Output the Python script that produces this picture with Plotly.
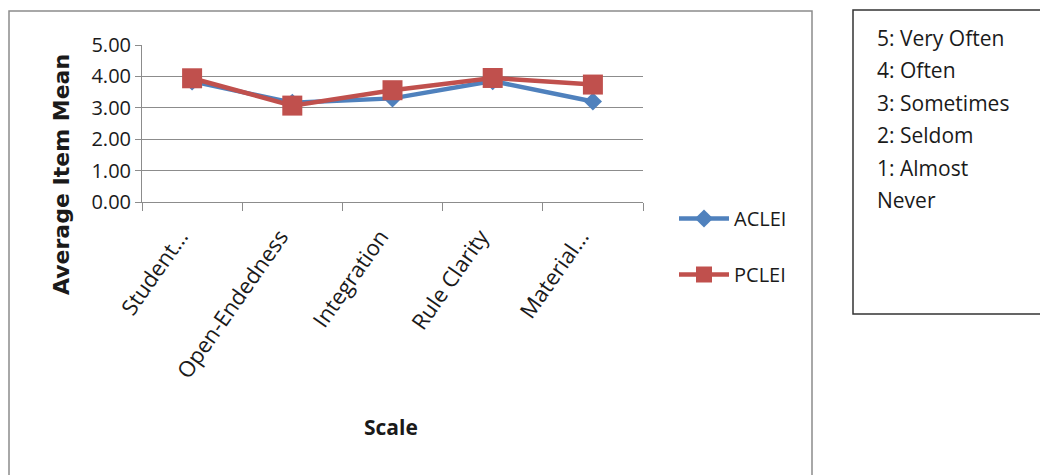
import plotly.graph_objects as go

categories = ["Student...", "Open-Endedness", "Integration", "Rule Clarity", "Material..."]
aclei = [3.84, 3.16, 3.30, 3.85, 3.20]
pclei = [3.94, 3.07, 3.56, 3.95, 3.74]
y_ticks = [0, 1, 2, 3, 4, 5]
y_tick_labels = ["0.00", "1.00", "2.00", "3.00", "4.00", "5.00"]
scale_notes = ["5: Very Often", "4: Often", "3: Sometimes", "2: Seldom", "1: Almost", "Never"]

# page has an 8px body margin; figure is placed at (8, 8)
OFF = 8
W, H = 1048 - OFF, 475 - OFF
PL, PR, PT, PB = 142, 643, 45, 202  # plot area in page pixels
L, R, T, B = PL - OFF, W - (PR - OFF), PT - OFF, H - (PB - OFF)
PW, PH = W - L - R, H - T - B

def px(x):
    return (x - OFF - L) / PW

def py(y):
    return (H - B - (y - OFF)) / PH

fig = go.Figure()
fig.add_trace(go.Scatter(
    x=categories, y=aclei, name="ACLEI", mode="lines+markers", legendgroup="a",
    line=dict(color="#4F81BD", width=4.5),
    marker=dict(symbol="diamond", size=14, color="#4F81BD"),
))
fig.add_trace(go.Scatter(
    x=categories, y=pclei, name="PCLEI", mode="lines+markers", legendgroup="p",
    line=dict(color="#C0504D", width=4.5),
    marker=dict(symbol="square", size=20, color="#C0504D"),
))

fig.update_layout(
    width=W, height=H,
    margin=dict(l=L, r=R, t=T, b=B),
    paper_bgcolor="white", plot_bgcolor="white",
    font=dict(family="Open Sans", color="#1a1a1a"),
    showlegend=True,
    legend=dict(
        x=px(674), y=py(199), xanchor="left", yanchor="top",
        font=dict(family="Open Sans", size=20, color="#1a1a1a"),
        tracegroupgap=27, itemwidth=50,
        bgcolor="rgba(0,0,0,0)",
    ),
    xaxis=dict(
        type="category", range=[-0.5, 4.5],
        showgrid=False, showline=True, linecolor="#8c8c8c", linewidth=1,
        ticks="outside", ticklen=8, tickcolor="#8c8c8c", tickson="boundaries",
        tickangle=-55, tickfont=dict(family="Open Sans", size=22, color="#1a1a1a"),
        ticklabelstandoff=12, ticklabelshift=-12,
        zeroline=False,
    ),
    yaxis=dict(
        range=[0, 5], tickvals=y_ticks, ticktext=y_tick_labels,
        showgrid=True, gridcolor="#8c8c8c", gridwidth=1,
        showline=True, linecolor="#8c8c8c", linewidth=1,
        ticks="outside", ticklen=6, tickcolor="#8c8c8c",
        tickfont=dict(family="Open Sans", size=20, color="#1a1a1a"),
        zeroline=False,
    ),
)

# Outer chart border
fig.add_shape(type="rect", xref="paper", yref="paper",
              x0=px(9), x1=px(812), y0=py(490), y1=py(11),
              line=dict(color="#8c8c8c", width=1.5), layer="below")
# Scale note box
fig.add_shape(type="rect", xref="paper", yref="paper",
              x0=px(853), x1=px(1070), y0=py(314), y1=py(10),
              line=dict(color="#333333", width=1.5))

annotations = [
    dict(text="<b>Average Item Mean</b>", x=px(61), y=py(175), xref="paper", yref="paper",
         textangle=-90, showarrow=False, xanchor="center", yanchor="middle",
         font=dict(family="DejaVu Sans", size=22, color="#1a1a1a")),
    dict(text="<b>Scale</b>", x=px(391), y=py(427), xref="paper", yref="paper",
         showarrow=False, xanchor="center", yanchor="middle",
         font=dict(family="Open Sans", size=21, color="#1a1a1a")),
]
for i, note in enumerate(scale_notes):
    annotations.append(dict(text=note, x=px(875), y=py(38 + 32.4 * i), xref="paper", yref="paper",
                            showarrow=False, xanchor="left", yanchor="middle",
                            font=dict(family="Open Sans", size=21, color="#1a1a1a")))
fig.update_layout(annotations=annotations)

fig.write_html("out.html")
